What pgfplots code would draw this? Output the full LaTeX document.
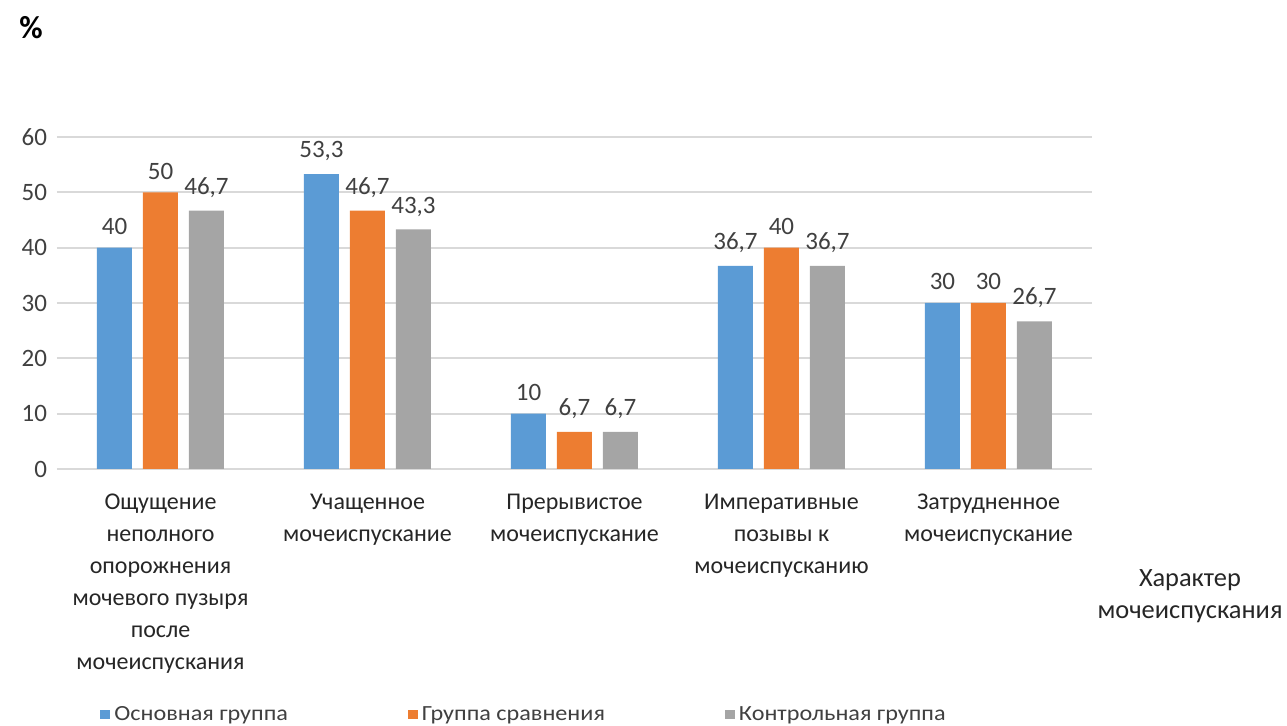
\documentclass[border=0pt]{standalone}
\usepackage{fontspec}
\setmainfont{Carlito}
\usepackage{pgfplots}
\pgfplotsset{compat=1.18}

\definecolor{cBlue}{HTML}{5B9BD5}
\definecolor{cOrange}{HTML}{ED7D31}
\definecolor{cGray}{HTML}{A5A5A5}
\definecolor{gridc}{HTML}{D9D9D9}
\definecolor{txt}{HTML}{404040}

\begin{document}
\begin{tikzpicture}
\useasboundingbox (-28.5pt,-128.5pt) rectangle (615pt,234.5pt);
\begin{axis}[
  at={(0,0)}, anchor=south west,
  scale only axis,
  width=517.5pt, height=166pt,
  xmin=-0.5, xmax=4.5,
  ymin=0, ymax=60,
  ytick={0,10,...,60},
  xtick={0,1,2,3,4},
  xticklabels={
    {Ощущение\\неполного\\опорожнения\\мочевого пузыря\\после\\мочеиспускания},
    {Учащенное\\мочеиспускание},
    {Прерывистое\\мочеиспускание},
    {Императивные\\позывы к\\мочеиспусканию},
    {Затрудненное\\мочеиспускание}},
  xticklabel style={align=center, font=\fontsize{12}{16}\selectfont, text=black!85, yshift=-9pt},
  yticklabel style={font=\fontsize{12.5}{14}\selectfont, text=txt, xshift=-1.5pt},
  /pgf/number format/assume math mode=true,
  major tick length=0pt,
  axis line style={draw=none},
  ymajorgrids,
  grid style={draw=gridc, line width=1pt},
  ybar=5.5pt,
  bar width=17.5pt,
  nodes near coords,
  nodes near coords style={font=\fontsize{12.5}{14}\selectfont, text=txt, yshift=3pt},
  point meta=explicit symbolic,
  legend columns=3,
  legend style={at={(0.0415,-0.74)}, anchor=west, draw=none, inner sep=0pt,
    font=\fontsize{10.8}{12}\selectfont\addfontfeature{FakeStretch=1.12}, text=txt,
    /tikz/every even column/.append style={column sep=58pt}},
  legend image code/.code={\fill[#1] (0pt,-2.3pt) rectangle (5pt,2.3pt);},
]
\addplot[fill=cBlue, draw=none] coordinates
  {(0,40)[40] (1,53.3)[53,3] (2,10)[10] (3,36.7)[36,7] (4,30)[30]};
\addplot[fill=cOrange, draw=none] coordinates
  {(0,50)[50] (1,46.7)[46,7] (2,6.7)[6,7] (3,40)[40] (4,30)[30]};
\addplot[fill=cGray, draw=none] coordinates
  {(0,46.7)[46,7] (1,43.3)[43,3] (2,6.7)[6,7] (3,36.7)[36,7] (4,26.7)[26,7]};
\legend{Основная группа, Группа сравнения, Контрольная группа}
\end{axis}
\node[font=\bfseries\fontsize{16}{18}\selectfont] at (-13pt,220.5pt) {\%};
\node[align=center, font=\fontsize{13.2}{16}\selectfont, text=black!85] at (566.5pt,-63.5pt) {Характер\\мочеиспускания};
\end{tikzpicture}
\end{document}
